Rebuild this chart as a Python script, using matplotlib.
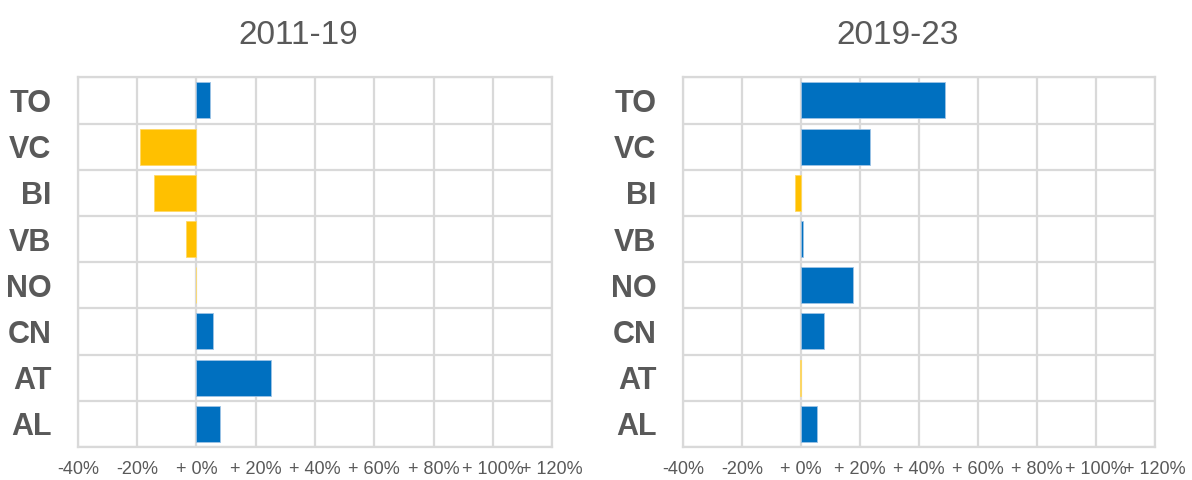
import numpy as np
import matplotlib.pyplot as plt

plt.rcParams['font.family'] = ['Liberation Sans', 'DejaVu Sans']

regioes = ['TO', 'VC', 'BI', 'VB', 'NO', 'CN', 'AT', 'AL']
var_2011_19 = [4.5, -19.2, -14.4, -3.6, -0.3, 5.6, 25.1, 8.1]
var_2019_23 = [48.8, 23.4, -2.2, 0.8, 17.7, 7.9, -0.3, 5.5]
periodos = ['2011-19', '2019-23']
ticks = [-40, -20, 0, 20, 40, 60, 80, 100, 120]
tick_labels = ['-40%', '-20%', '+ 0%', '+ 20%', '+ 40%', '+ 60%', '+ 80%', '+ 100%', '+ 120%']

AZUL = '#0070C0'
AMARELO = '#FFC000'
CINZA = '#595959'
GRADE = '#D9D9D9'

fig = plt.figure(figsize=(11.92, 4.8), dpi=100)
posicoes = [[0.0654, 0.0688, 0.3977, 0.770], [0.5730, 0.0688, 0.3960, 0.770]]
centros_titulo = [0.25, 0.753]

for pos, dados, titulo, cx in zip(posicoes, [var_2011_19, var_2019_23], periodos, centros_titulo):
    ax = fig.add_axes(pos)
    y = np.arange(len(regioes))
    cores = [AZUL if v >= 0 else AMARELO for v in dados]
    bordas = ['#9DC3E6' if v >= 0 else '#FFD966' for v in dados]
    ax.barh(y, dados, height=0.78, color=cores, edgecolor=bordas, linewidth=0.6, zorder=3)

    ax.set_xlim(-40, 120)
    ax.set_ylim(len(regioes) - 0.5, -0.5)
    ax.set_xticks(ticks)
    ax.set_xticklabels(tick_labels, fontsize=13, color=CINZA)
    ax.set_yticks(y)
    ax.set_yticklabels(regioes, fontsize=22, fontweight='bold', color=CINZA)
    ax.set_yticks(np.arange(len(regioes) + 1) - 0.5, minor=True)

    ax.grid(True, axis='x', color=GRADE, linewidth=1.6, zorder=0)
    ax.grid(True, axis='y', which='minor', color=GRADE, linewidth=1.6, zorder=0)
    ax.tick_params(axis='both', which='both', length=0)
    ax.tick_params(axis='x', pad=10)
    ax.tick_params(axis='y', pad=19)
    for sp in ax.spines.values():
        sp.set_color(GRADE)
        sp.set_linewidth(1.6)

    fig.text(cx, 0.925, titulo, ha='center', va='center', fontsize=24, color=CINZA)

fig.savefig('out.png', dpi=100)
